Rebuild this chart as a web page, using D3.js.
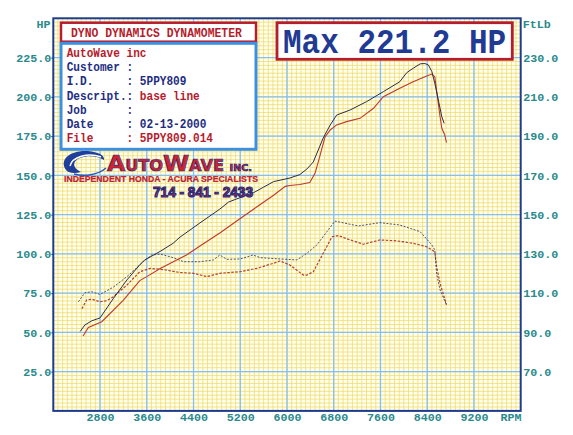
<!DOCTYPE html>
<meta charset="utf-8">
<style>
body { margin: 0; background: #fff; }
svg { display: block; }
.axis text {
  font-family: 'Liberation Mono', monospace;
  font-weight: bold;
  font-size: 11.7px;
  fill: #2a8a8c;
}
.axis line { stroke: #1f3c8c; }
.mono { font-family: 'Liberation Mono', monospace; font-weight: bold; white-space: pre; }
</style>

<svg id="chart" width="573" height="435"></svg>

<script src="https://cdn.jsdelivr.net/npm/d3@7"></script>
<script>

// tick labels
var rpmTicks = [2800, 3600, 4400, 5200, 6000, 6800, 7600, 8400, 9200];
var hpTicks  = [25, 50, 75, 100, 125, 150, 175, 200, 225];
var tqTicks  = [70, 90, 110, 130, 150, 170, 190, 210, 230];

// run 1 (dark) - power
var hpRpmDark = [2460, 2540, 2660, 2800, 3030, 3260, 3480, 3560, 3830, 4050, 4170, 4510, 4850, 5000, 5140, 5420, 5600, 5770, 6050, 6220, 6340, 6450, 6620, 6740, 6850, 7080, 7360, 7650, 7930, 8050, 8160, 8280, 8360, 8420, 8480, 8530, 8590, 8650, 8690];
var hpDark    = [50.6, 54.7, 57.4, 59.2, 71.7, 83.4, 93.0, 96.0, 101.6, 106.7, 110.7, 119.7, 128.5, 133.0, 135.0, 138.8, 142.5, 146.0, 148.3, 150.5, 154.0, 158.5, 173.8, 182.1, 188.4, 191.6, 196.9, 203.3, 209.6, 215.4, 218.2, 221.0, 221.2, 220.3, 216.0, 208.6, 198.0, 187.3, 183.1];

// run 2 (red) - power
var hpRpmRed = [2510, 2600, 2740, 2830, 3200, 3480, 3600, 3830, 4170, 4280, 4510, 4850, 5200, 5480, 5770, 5970, 6050, 6220, 6390, 6480, 6560, 6650, 6740, 6850, 7020, 7250, 7480, 7650, 7930, 8160, 8390, 8480, 8530, 8560, 8620, 8650, 8700, 8730];
var hpRed    = [47.7, 53.1, 55.3, 56.8, 70.6, 83.0, 85.5, 90.7, 97.2, 99.3, 105.0, 113.3, 122.5, 129.8, 137.3, 143.0, 143.5, 144.2, 145.4, 151.3, 161.9, 174.4, 178.9, 182.1, 184.2, 186.3, 192.7, 200.1, 205.4, 209.6, 213.3, 214.5, 212.8, 204.3, 187.3, 180.0, 175.7, 170.8];

// run 1 (dark) - torque
var tqRpmDark = [2430, 2540, 2660, 2800, 3030, 3260, 3540, 3680, 3830, 4050, 4230, 4510, 4740, 4850, 4970, 5200, 5420, 5540, 5880, 6170, 6340, 6510, 6820, 7220, 7590, 7930, 8280, 8480, 8530, 8560, 8620, 8730];
var tqDark    = [105.6, 110.2, 110.7, 109.3, 113.1, 118.4, 126.0, 129.4, 129.9, 128.1, 126.0, 126.0, 126.9, 129.4, 127.2, 127.4, 129.4, 128.1, 127.4, 126.9, 130.3, 134.5, 146.7, 144.2, 145.9, 144.7, 141.3, 134.5, 132.0, 120.1, 111.6, 104.0];

// run 2 (red) - torque
var tqRpmRed = [2490, 2570, 2660, 2800, 2910, 3030, 3260, 3480, 3660, 3880, 4170, 4400, 4630, 4850, 5200, 5480, 5770, 5880, 6050, 6280, 6340, 6450, 6620, 6770, 6880, 7080, 7310, 7590, 7880, 8160, 8390, 8530, 8560, 8620, 8730];
var tqRed    = [102.0, 106.5, 106.9, 105.6, 106.1, 108.2, 114.1, 120.9, 122.6, 122.0, 120.5, 120.1, 118.4, 120.1, 120.9, 122.6, 125.2, 126.4, 124.3, 119.2, 119.2, 120.9, 130.3, 138.7, 139.3, 137.1, 134.9, 137.1, 136.6, 135.4, 133.6, 131.1, 123.5, 115.0, 104.0];

var svg = d3.select("#chart");

var x = d3.scaleLinear().domain([2000, 10000]).range([53.3, 520.7]);
var yHp = d3.scaleLinear().domain([0, 250]).range([410.9, 18.3]);
var yTq = d3.scaleLinear().domain([50, 250]).range([410.9, 18.3]);

var navy = "#1e2d82", red = "#b51c2c";

// plot background
svg.append("rect")
    .attr("x", x(2000)).attr("y", yHp(250))
    .attr("width", x(10000) - x(2000)).attr("height", yHp(0) - yHp(250))
    .attr("fill", "#fffff0");

// minor grid (yellow)
var grid = svg.append("g");
grid.selectAll(".mv")
    .data(d3.range(1, 100).map(function(i) { return 2000 + i * 80; }))
  .enter().append("line")
    .attr("x1", function(d) { return x(d); }).attr("x2", function(d) { return x(d); })
    .attr("y1", yHp(0)).attr("y2", yHp(250))
    .attr("stroke", "#f0dc6e").attr("stroke-width", 0.8);
grid.selectAll(".mh")
    .data(d3.range(1, 100).map(function(i) { return i * 2.5; }))
  .enter().append("line")
    .attr("y1", function(d) { return yHp(d); }).attr("y2", function(d) { return yHp(d); })
    .attr("x1", x(2000)).attr("x2", x(10000))
    .attr("stroke", "#f0dc6e").attr("stroke-width", 0.8);

// major grid (blue)
grid.selectAll(".Mv")
    .data(rpmTicks)
  .enter().append("line")
    .attr("x1", function(d) { return x(d); }).attr("x2", function(d) { return x(d); })
    .attr("y1", yHp(0)).attr("y2", yHp(250))
    .attr("stroke", "#86bff0").attr("stroke-width", 1.3);
grid.selectAll(".Mh")
    .data(hpTicks)
  .enter().append("line")
    .attr("y1", function(d) { return yHp(d); }).attr("y2", function(d) { return yHp(d); })
    .attr("x1", x(2000)).attr("x2", x(10000))
    .attr("stroke", "#86bff0").attr("stroke-width", 1.3);

// axes
function fitText(sel, cw) {
  sel.attr("textLength", function() { return this.textContent.length * cw; })
     .attr("lengthAdjust", "spacingAndGlyphs");
}

var axL = svg.append("g").attr("class", "axis")
    .attr("transform", "translate(" + x(2000) + ",0)")
    .call(d3.axisLeft(yHp).tickValues(hpTicks).tickFormat(d3.format(".1f")).tickSize(2).tickPadding(0));
var axR = svg.append("g").attr("class", "axis")
    .attr("transform", "translate(" + x(10000) + ",0)")
    .call(d3.axisRight(yTq).tickValues(tqTicks).tickFormat(d3.format(".1f")).tickSize(0).tickPadding(2.5));
var axB = svg.append("g").attr("class", "axis")
    .attr("transform", "translate(0," + yHp(0) + ")")
    .call(d3.axisBottom(x).tickValues(rpmTicks).tickFormat(d3.format("d")).tickSize(0).tickPadding(2));
[axL, axR, axB].forEach(function(a) {
  a.select(".domain").remove();
  fitText(a.selectAll("text"), 7);
});

// axis titles
function label(t, xx, yy, anchor) {
  var s = svg.append("text").attr("class", "mono")
      .attr("x", xx).attr("y", yy).attr("text-anchor", anchor || "start")
      .attr("font-size", 11.7).attr("fill", "#2a8a8c").text(t);
  fitText(s, 7);
  return s;
}
label("HP", 50.5, 28.3, "end");
label("FtLb", 522.7, 27.7);
label("RPM", 500.5, 421.4);

// plot border
svg.append("rect")
    .attr("x", x(2000)).attr("y", yHp(250))
    .attr("width", x(10000) - x(2000)).attr("height", yHp(0) - yHp(250))
    .attr("fill", "none").attr("stroke", "#1f3c8c").attr("stroke-width", 2);

// curves
function series(rpms, vals) {
  return rpms.map(function(r, i) { return { rpm: r, v: vals[i] }; });
}
var hpLine = d3.line().x(function(d) { return x(d.rpm); }).y(function(d) { return yHp(d.v); });
var tqLine = d3.line().x(function(d) { return x(d.rpm); }).y(function(d) { return yTq(d.v); });

var curves = svg.append("g").attr("fill", "none");
curves.append("path").datum(series(tqRpmRed, tqRed)).attr("d", tqLine)
    .attr("stroke", "#b2402e").attr("stroke-width", 1.2).attr("stroke-dasharray", "2.5,1.5");
curves.append("path").datum(series(tqRpmDark, tqDark)).attr("d", tqLine)
    .attr("stroke", "#3a4068").attr("stroke-width", 0.9).attr("stroke-dasharray", "2,1.5");
curves.append("path").datum(series(hpRpmRed, hpRed)).attr("d", hpLine)
    .attr("stroke", "#bf3a28").attr("stroke-width", 1.1);
curves.append("path").datum(series(hpRpmDark, hpDark)).attr("d", hpLine)
    .attr("stroke", "#2b2d48").attr("stroke-width", 1);

// stretched mono text (tall narrow dyno font)
function tallText(parent, xx, yy, size, sy) {
  return parent.append("text").attr("class", "mono")
      .attr("transform", "translate(" + xx + "," + yy + ") scale(1," + sy + ")")
      .attr("font-size", size);
}

// title box
svg.append("rect").attr("x", 61).attr("y", 22.7).attr("width", 195).attr("height", 19)
    .attr("fill", "#fff").attr("stroke", red).attr("stroke-width", 2.5);
tallText(svg, 71, 36.7, 11.4, 1.1).attr("fill", red).text("DYNO DYNAMICS DYNAMOMETER");

// info box
svg.append("rect").attr("x", 61).attr("y", 43.3).attr("width", 195).attr("height", 106)
    .attr("fill", "#fff").attr("stroke", "#3d8fe0").attr("stroke-width", 3);

var infoRows = [
  { label: "AutoWave inc", colon: false, value: "", lc: red, vc: red },
  { label: "Customer", colon: true, value: "", lc: navy, vc: navy },
  { label: "I.D.", colon: true, value: "5PPY809", lc: navy, vc: navy },
  { label: "Descript.", colon: true, value: "base line", lc: navy, vc: red },
  { label: "Job", colon: true, value: "", lc: navy, vc: navy },
  { label: "Date", colon: true, value: "02-13-2000", lc: navy, vc: navy },
  { label: "File", colon: true, value: "5PPY809.014", lc: red, vc: red }
];
infoRows.forEach(function(r, i) {
  var head = r.colon ? (r.label + "         ").slice(0, 9) + ":" : r.label;
  var t = tallText(svg, 66.7, 56.9 + i * 14.2, 11.1, 1.12).attr("xml:space", "preserve");
  t.append("tspan").attr("fill", r.lc).text(head);
  if (r.value) t.append("tspan").attr("fill", r.vc).text(" " + r.value);
});

// max box
svg.append("rect").attr("x", 277).attr("y", 22.7).attr("width", 235.3).attr("height", 36.6)
    .attr("fill", "#fff").attr("stroke", red).attr("stroke-width", 2.8);
tallText(svg, 283, 53.3, 31, 1.12).attr("fill", "#213a94").text("Max 221.2 HP");

// logo
var logo = svg.append("g");
logo.append("path")
    .attr("d", "M66,170 C59,160 69,150 88,151 C98,152 105,155 104,160 C98,156 88,155 80,158 C72,161 72,168 81,172 C75,174 68,173 66,170 Z")
    .attr("fill", "#1f3f9a");
logo.append("path")
    .attr("d", "M70,166 C72,157 88,152 101,157")
    .attr("fill", "none").attr("stroke", "#fff").attr("stroke-width", 1.4);
logo.append("path")
    .attr("d", "M74,174 C84,177 98,175 106,168")
    .attr("fill", "none").attr("stroke", "#2a59b8").attr("stroke-width", 1.6);

var brand = logo.append("text")
    .attr("x", 107).attr("y", 171)
    .attr("font-family", "'DejaVu Sans', sans-serif").attr("font-weight", "bold")
    .attr("fill", "#d3202c").attr("stroke", navy).attr("stroke-width", 0.7)
    .attr("textLength", 145).attr("lengthAdjust", "spacingAndGlyphs");
brand.append("tspan").attr("font-size", 22).text("A");
brand.append("tspan").attr("font-size", 15).text("UTO");
brand.append("tspan").attr("font-size", 22).text("W");
brand.append("tspan").attr("font-size", 15).text("AVE ");
brand.append("tspan").attr("font-size", 9).text("INC.");

logo.append("text")
    .attr("x", 64).attr("y", 182.3)
    .attr("font-family", "'Liberation Sans', sans-serif").attr("font-weight", "bold")
    .attr("font-size", 8.3).attr("fill", "#d3202c")
    .attr("stroke", "#7a1a40").attr("stroke-width", 0.2)
    .attr("textLength", 194).attr("lengthAdjust", "spacingAndGlyphs")
    .text("INDEPENDENT HONDA - ACURA SPECIALISTS");

logo.append("text")
    .attr("transform", "translate(153,196.8) scale(1,1.2)")
    .attr("font-family", "'Liberation Sans', sans-serif").attr("font-weight", "bold")
    .attr("font-size", 12.5).attr("fill", "#d3202c")
    .attr("stroke", navy).attr("stroke-width", 1)
    .attr("textLength", 100).attr("lengthAdjust", "spacingAndGlyphs")
    .text("714 - 841 - 2433");

</script>
